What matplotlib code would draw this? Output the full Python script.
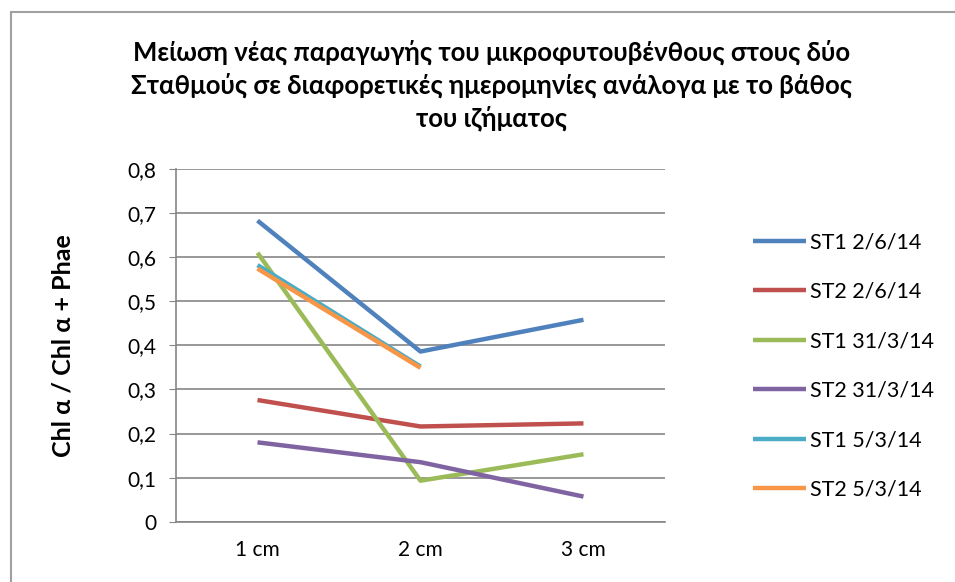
import numpy as np
import matplotlib.pyplot as plt
from matplotlib.patches import Rectangle

plt.rcParams['font.family'] = ['Lato', 'Noto Sans', 'DejaVu Sans']

depths = ['1 cm', '2 cm', '3 cm']
st1_2_6 = [0.683, 0.386, 0.458]
st2_2_6 = [0.276, 0.216, 0.223]
st1_31_3 = [0.610, 0.093, 0.153]
st2_31_3 = [0.180, 0.135, 0.057]
st1_5_3 = [0.582, 0.352, np.nan]
st2_5_3 = [0.574, 0.349, np.nan]

labels = ['ST1 2/6/14', 'ST2 2/6/14', 'ST1 31/3/14',
          'ST2 31/3/14', 'ST1 5/3/14', 'ST2 5/3/14']
colors = ['#4F81BD', '#C0504D', '#9BBB59', '#8064A2', '#4BACC6', '#F79646']
series = [st1_2_6, st2_2_6, st1_31_3, st2_31_3, st1_5_3, st2_5_3]

fig = plt.figure(figsize=(9.55, 5.82), dpi=100)
ax = fig.add_axes([0.1843, 0.1036, 0.512, 0.606])

x = np.arange(len(depths))
for vals, lab, col in zip(series, labels, colors):
    ax.plot(x, vals, color=col, lw=3.2, label=lab, solid_capstyle='butt')

ax.set_xlim(-0.5, 2.5)
ax.set_ylim(0, 0.8)
ax.set_xticks(x)
ax.set_xticklabels(depths)
yt = np.arange(0, 0.81, 0.1)
ax.set_yticks(yt)
ax.set_yticklabels(['0'] + [f'{v:.1f}'.replace('.', ',') for v in yt[1:]])
ax.tick_params(axis='x', length=0, pad=13, labelsize=15)
ax.tick_params(axis='y', length=5, color='#868686', pad=9, labelsize=15)
ax.grid(axis='y', color='#868686', lw=1.2)
ax.set_axisbelow(True)
for s in ['top', 'right']:
    ax.spines[s].set_visible(False)
for s in ['left', 'bottom']:
    ax.spines[s].set_color('#868686')
    ax.spines[s].set_linewidth(1.2)

ax.set_ylabel('Chl α / Chl α + Phae', fontsize=18, fontweight='bold', labelpad=38)

fig.text(0.515, 0.853, 'Μείωση νέας παραγωγής του μικροφυτουβένθους στους δύο\n'
         'Σταθμούς σε διαφορετικές ημερομηνίες ανάλογα με το βάθος\n'
         'του ιζήματος', ha='center', va='center', fontsize=18.5,
         fontweight='bold', linespacing=1.36)

leg = fig.legend(loc='upper left', bbox_to_anchor=(0.779, 0.616), frameon=False,
                 fontsize=15.5, handlelength=2.5, handletextpad=0.15,
                 labelspacing=1.37, borderaxespad=0)

# chart outline
fig.patches.append(Rectangle((0.011, -0.05), 1.05, 1.03, transform=fig.transFigure,
                             fill=False, edgecolor='#A0A0A0', lw=1.5))

fig.savefig('out.png', dpi=100)
